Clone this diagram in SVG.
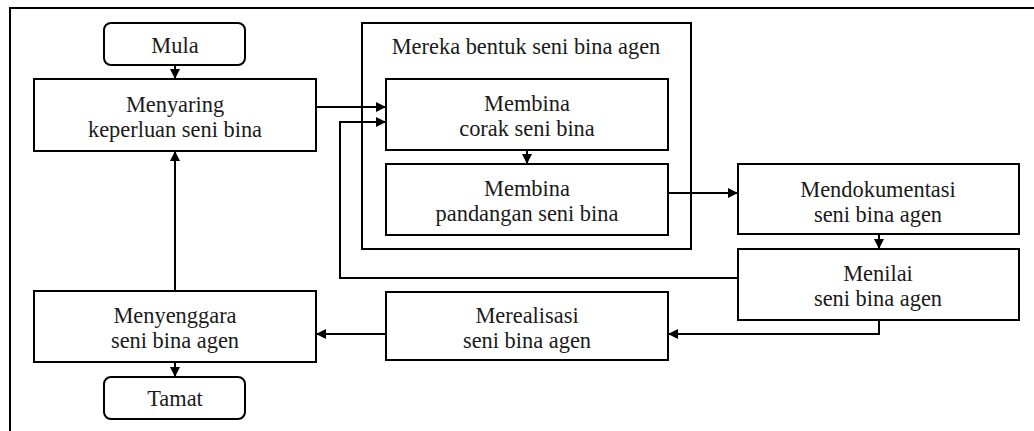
<svg xmlns="http://www.w3.org/2000/svg" width="1034" height="431" viewBox="0 0 1034 431">
  <style>
    .box { fill: #fff; stroke: #000; stroke-width: 2; }
    .frame { fill: none; stroke: #000; stroke-width: 2; }
    .edge { fill: none; stroke: #000; stroke-width: 2; }
    text { font-family: "Liberation Serif", "Times New Roman", serif; font-size: 22.4px; fill: #1a1a1a; text-anchor: middle; }
  </style>
  <defs>
    <marker id="arrow" viewBox="0 0 10 10" refX="10" refY="5" markerWidth="10" markerHeight="10" markerUnits="userSpaceOnUse" orient="auto">
      <path d="M0,0 L10,5 L0,10 Z" fill="#000"/>
    </marker>
  </defs>

  <!-- outer border (open to the right and bottom) -->
  <path class="frame" d="M10,431 V8 H1034"/>

  <!-- design stage container -->
  <g id="design-stage">
    <rect class="frame" x="362" y="23" width="329" height="226"/>
    <text x="526" y="54">Mereka bentuk seni bina agen</text>
  </g>

  <g id="connectors">
    <path class="edge" d="M175,65 V79" marker-end="url(#arrow)"/>
    <path class="edge" d="M316,107 H386" marker-end="url(#arrow)"/>
    <path class="edge" d="M527,150 V164" marker-end="url(#arrow)"/>
    <path class="edge" d="M668,193 H738" marker-end="url(#arrow)"/>
    <path class="edge" d="M879,234 V249" marker-end="url(#arrow)"/>
    <path class="edge" d="M738,278 H340 V122 H386" marker-end="url(#arrow)"/>
    <path class="edge" d="M879,320 V334 H668" marker-end="url(#arrow)"/>
    <path class="edge" d="M386,334 H316" marker-end="url(#arrow)"/>
    <path class="edge" d="M175,291 V151" marker-end="url(#arrow)"/>
    <path class="edge" d="M175,362 V377" marker-end="url(#arrow)"/>
  </g>

  <g id="mula">
    <rect class="box" x="104" y="23" width="141" height="42" rx="7"/>
    <text x="175" y="53">Mula</text>
  </g>

  <g id="menyaring">
    <rect class="box" x="34" y="79" width="282" height="72"/>
    <text x="175" y="112">Menyaring</text>
    <text x="175" y="137">keperluan seni bina</text>
  </g>

  <g id="membina-corak">
    <rect class="box" x="386" y="79" width="282" height="71"/>
    <text x="527" y="111">Membina</text>
    <text x="527" y="136">corak seni bina</text>
  </g>

  <g id="membina-pandangan">
    <rect class="box" x="386" y="164" width="282" height="71"/>
    <text x="527" y="196">Membina</text>
    <text x="527" y="221">pandangan seni bina</text>
  </g>

  <g id="mendokumentasi">
    <rect class="box" x="738" y="164" width="281" height="70"/>
    <text x="878" y="197">Mendokumentasi</text>
    <text x="878" y="222">seni bina agen</text>
  </g>

  <g id="menilai">
    <rect class="box" x="738" y="249" width="281" height="71"/>
    <text x="878" y="281">Menilai</text>
    <text x="878" y="306">seni bina agen</text>
  </g>

  <g id="merealisasi">
    <rect class="box" x="386" y="292" width="282" height="68"/>
    <text x="527" y="323">Merealisasi</text>
    <text x="527" y="348">seni bina agen</text>
  </g>

  <g id="menyenggara">
    <rect class="box" x="34" y="291" width="282" height="71"/>
    <text x="175" y="323">Menyenggara</text>
    <text x="175" y="348">seni bina agen</text>
  </g>

  <g id="tamat">
    <rect class="box" x="104" y="377" width="141" height="42" rx="7"/>
    <text x="175" y="406">Tamat</text>
  </g>
</svg>
